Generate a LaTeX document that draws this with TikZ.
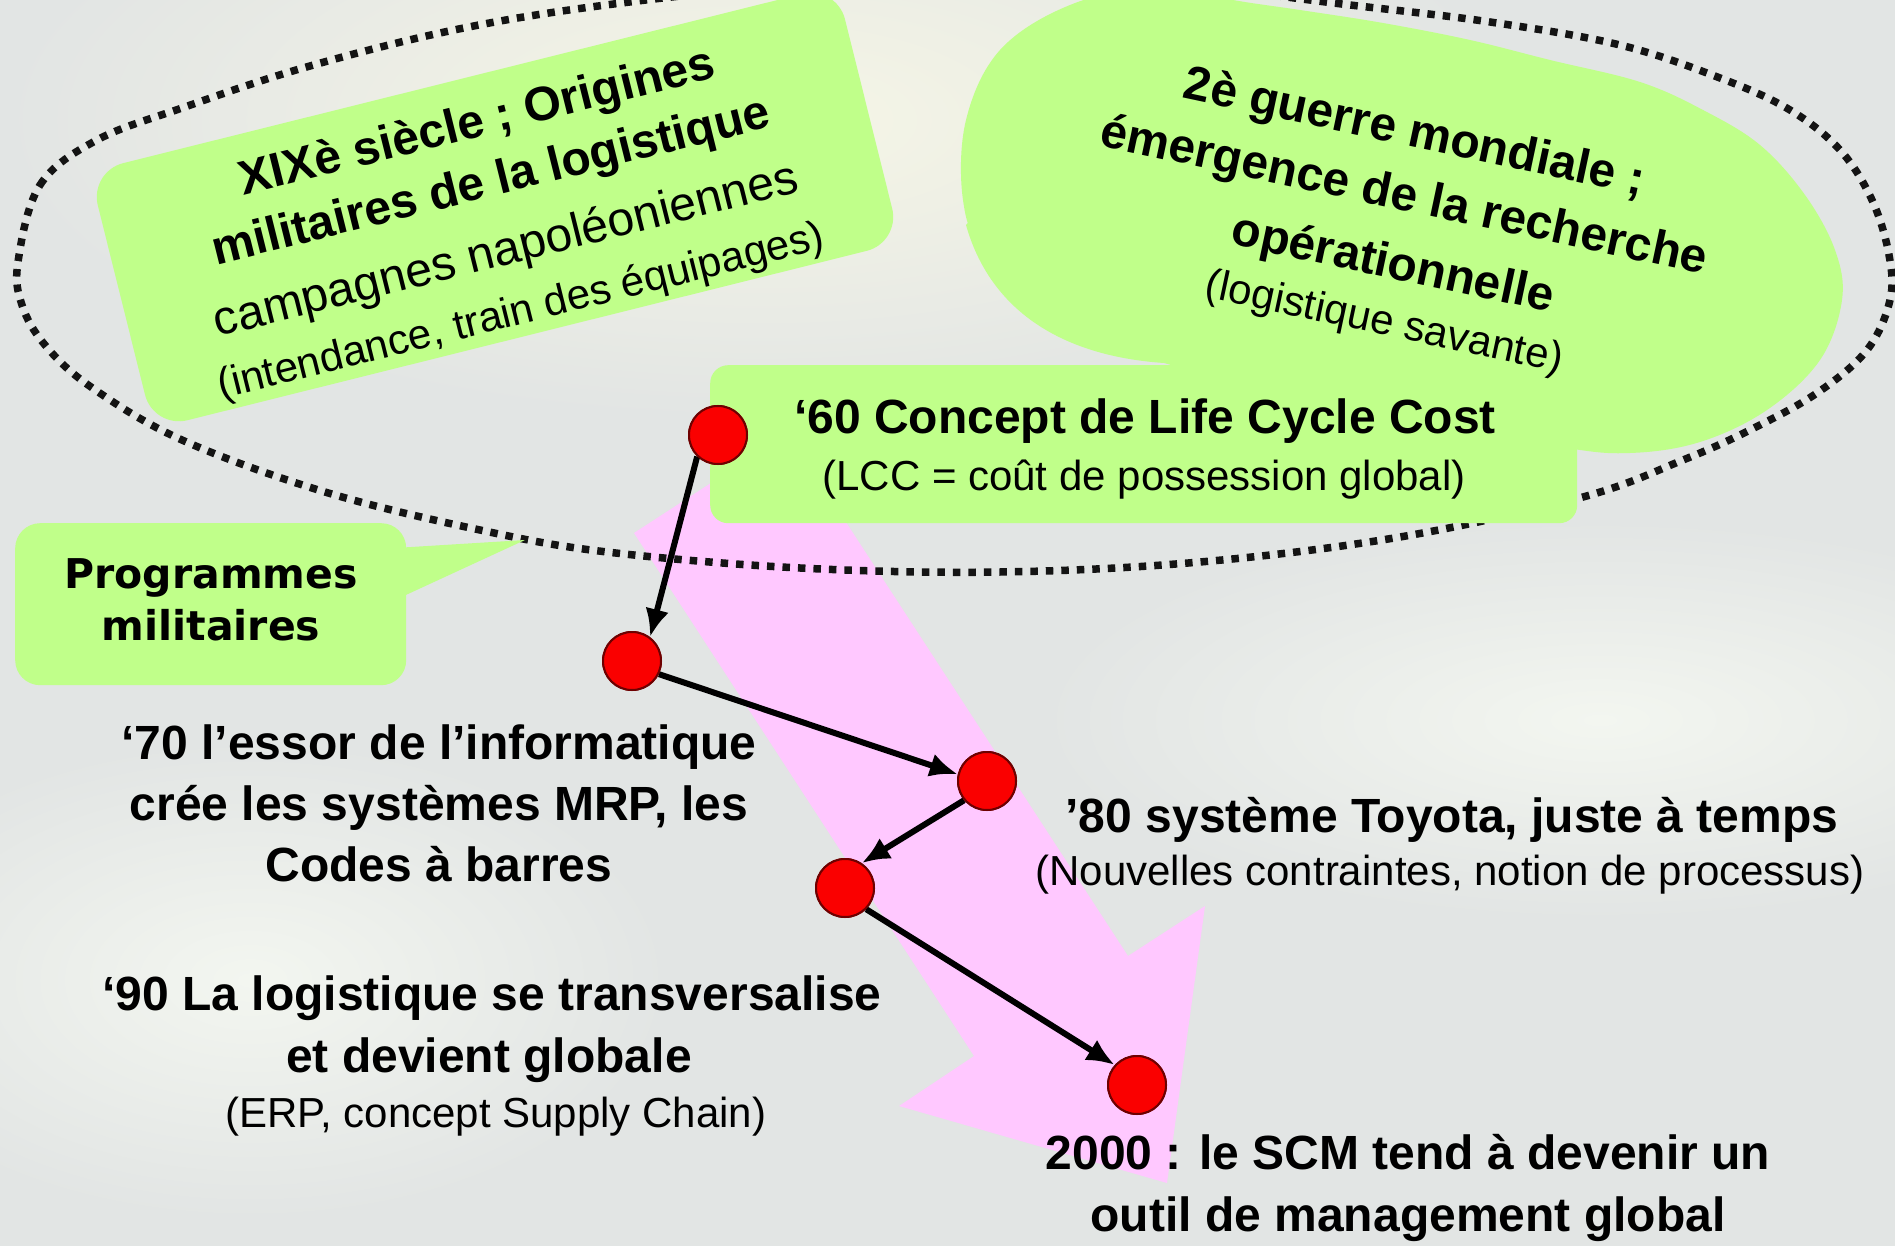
\documentclass[tikz,border=0pt]{standalone}
\usepackage{fontspec}
\setmainfont{Liberation Sans}
\newfontfamily\dejavu{DejaVu Sans}
\usetikzlibrary{arrows.meta}
\definecolor{bgbase}{RGB}{226,229,228}
\definecolor{bglight}{RGB}{246,246,230}
\definecolor{bgwhite}{RGB}{243,246,240}
\definecolor{lime}{RGB}{192,255,138}
\definecolor{pinkarrow}{RGB}{255,200,255}
\definecolor{dotred}{RGB}{250,0,0}
\definecolor{dotedge}{RGB}{110,0,0}
\definecolor{dotline}{RGB}{20,20,20}
\begin{document}
\begin{tikzpicture}[x=1pt,y=-1pt,
  txtb/.style={font=\fontsize{48}{58}\selectfont\bfseries, inner sep=0pt, anchor=base},
  txtr/.style={font=\fontsize{42}{50}\selectfont, inner sep=0pt, anchor=base},
  txtrl/.style={font=\fontsize{48}{58}\selectfont, inner sep=0pt, anchor=base},
  txtp/.style={font=\fontsize{41}{50}\selectfont\dejavu\bfseries, inner sep=0pt, anchor=base},
  reddot/.style={circle, minimum size=58pt, inner sep=0pt, fill=dotred, draw=dotedge, line width=2pt},
  conn/.style={line width=6pt, -{Latex[length=28pt,width=24pt]}},
  bubble/.style={fill=lime, draw=none, inner sep=0pt},
  dotcurve/.style={draw=dotline, line width=7.5pt, dash pattern=on 7.5pt off 8pt}
]
% background
\fill[bgbase] (0,0) rectangle (1895,1246);
\useasboundingbox (0,0) rectangle (1895,1246);
\shade[inner color=bglight, outer color=bgbase] (760,120) ellipse (760pt and 300pt);
\shade[inner color=bgwhite, outer color=bgbase] (1600,720) ellipse (560pt and 200pt);
\shade[inner color=bgwhite, outer color=bgbase] (250,980) ellipse (420pt and 240pt);

% pink arrow
\fill[pinkarrow] (634,533) -- (788,433) -- (1128,956) -- (1205,906) -- (1167,1183)
  -- (899,1106) -- (974,1056) -- cycle;

% dotted ellipse
\draw[dotcurve] plot[smooth cycle, tension=0.6] coordinates {
 (18,262) (40,185) (97,140) (182,108) (303,68) (454,30) (606,5) (800,-15)
 (1000,-22) (1200,-12) (1350,5) (1490,22) (1620,45) (1720,78) (1790,110)
 (1840,150) (1872,200) (1889,255) (1890,300) (1867,350) (1817,393) (1750,430)
 (1683,460) (1583,497) (1400,537) (1200,562) (1000,572) (800,568) (607,552)
 (480,530) (325,492) (182,440) (91,387) (45,345) (22,305)};

% box 1 (XIXe siecle) shape
\begin{scope}[shift={(495,207)}, rotate=14, transform shape]
  \node[bubble, rounded corners=35pt, minimum width=770pt, minimum height=265pt] (xix) at (0,0) {};
\end{scope}

% blob (2e guerre mondiale) shape
\fill[lime] plot[smooth cycle, tension=0.6] coordinates {
 (963,200) (966,120) (1000,50) (1070,5) (1160,-15) (1233,0) (1300,10)
 (1383,23) (1470,40) (1550,60) (1640,82) (1703,110) (1760,145) (1805,195)
 (1835,250) (1842,300) (1820,360) (1767,410) (1700,442) (1630,453) (1560,447)
 (1400,418) (1220,372) (1060,300) (985,250)};
\fill[lime] (990,200) -- (966,225) .. controls (990,310) and (1061,356) .. (1164,363)
  -- (1400,430) -- (1250,250) -- cycle;

% '60 box shape
\node[bubble, rounded corners=18pt, minimum width=867pt, minimum height=158pt, anchor=north west] (lcc) at (710,365) {};

% Programmes militaires shape
\node[bubble, rounded corners=25pt, minimum width=391pt, minimum height=162pt, anchor=north west] (prog) at (15,523) {};
\fill[lime] (395,548) -- (525,540) -- (395,600) -- cycle;

% texts in box 1
\begin{scope}[shift={(495,207)}, rotate=14, transform shape]
  \node[txtb] (xix1) at (3,-72) {XIXè siècle ; Origines};
  \node[txtb] (xix2) at (2,-11) {militaires de la logistique};
  \node[txtrl] (xix3) at (0,59) {campagnes napoléoniennes};
  \node[txtr] (xix4) at (0,120) {(intendance, train des équipages)};
\end{scope}

% texts in blob
\begin{scope}[shift={(1400,225)}, rotate=-12, transform shape]
  \node[txtb] (ww1) at (-5,-79) {2è guerre mondiale ;};
  \node[txtb] (ww2) at (-2,-15) {émergence de la recherche};
  \node[txtb] (ww3) at (1,54) {opérationnelle};
  \node[txtr] (ww4) at (5,111) {(logistique savante)};
\end{scope}

% '60 texts
\node[txtb] (t60a) at (1145,433) {‘60 Concept de Life Cycle Cost};
\node[txtr] (t60b) at (1144,490) {(LCC = coût de possession global)};

% Programmes texts
\node[txtp] (prog1) at (211,588) {Programmes};
\node[txtp] (prog2) at (211,640) {militaires};

% timeline texts
\node[txtb] (t70a) at (439,759) {‘70 l’essor de l’informatique};
\node[txtb] (t70b) at (439,820) {crée les systèmes MRP, les};
\node[txtb] (t70c) at (439,881) {Codes à barres};

\node[txtb] (t80a) at (1452,832) {’80 système Toyota, juste à temps};
\node[txtr] (t80b) at (1450,885) {(Nouvelles contraintes, notion de processus)};

\node[txtb] (t90a) at (492,1010) {‘90 La logistique se transversalise};
\node[txtb] (t90b) at (489,1072) {et devient globale};
\node[txtr] (t90c) at (496,1127) {(ERP, concept Supply Chain)};

\node[txtb] (t2000a) at (1408,1169) {2000 : le SCM tend à devenir un};
\node[txtb] (t2000b) at (1408,1231) {outil de management global};

% red dots (positions)
\node[reddot] (d1) at (718,435) {};
\node[reddot] (d2) at (632,661) {};
\node[reddot] (d3) at (987,781) {};
\node[reddot] (d4) at (845,888) {};
\node[reddot] (d5) at (1137,1085) {};

% connectors
\draw[conn] (d1.226) -- (d2.53);
\draw[conn] (d2.334) -- (d3.167);
\draw[conn] (d3.220) -- (d4.56);
\draw[conn] (d4.315) -- (d5.138);

% dots drawn again above the connectors
\node[reddot] at (d1) {};
\node[reddot] at (d2) {};
\node[reddot] at (d3) {};
\node[reddot] at (d4) {};
\node[reddot] at (d5) {};
\end{tikzpicture}
\end{document}
